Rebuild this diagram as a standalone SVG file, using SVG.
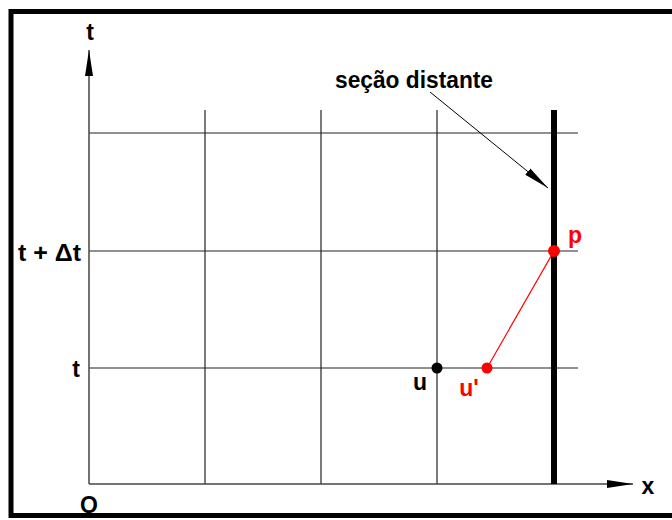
<svg xmlns="http://www.w3.org/2000/svg" width="672" height="520" viewBox="0 0 672 520">
<style>
.grid{stroke:#222;stroke-width:1.2;fill:none}
.axis{stroke:#444;stroke-width:1.5;fill:none}
.lbl{font-family:"Liberation Sans",Arial,sans-serif;font-weight:bold;font-size:23px;fill:#000}
.red{fill:#ff0000}
</style>
<defs>
<marker id="ah" viewBox="0 0 26 10" refX="26" refY="5" markerWidth="26" markerHeight="10" markerUnits="userSpaceOnUse" orient="auto">
<path d="M0,1 L26,5 L0,9 Z" fill="#000"/>
</marker>
</defs>
<rect x="0" y="0" width="672" height="520" fill="#fff"/>
<rect x="11" y="11.5" width="680" height="504" fill="none" stroke="#000" stroke-width="5"/>
<g id="grid">
<line class="grid" x1="89" y1="133" x2="578" y2="133"/>
<line class="grid" x1="89" y1="251" x2="578" y2="251"/>
<line class="grid" x1="89" y1="368" x2="578" y2="368"/>
<line class="grid" x1="205" y1="110" x2="205" y2="484"/>
<line class="grid" x1="321" y1="110" x2="321" y2="484"/>
<line class="grid" x1="437" y1="110" x2="437" y2="484"/>
</g>
<g id="connectors">
<line class="axis" x1="89" y1="484" x2="89" y2="50" marker-end="url(#ah)"/>
<line class="axis" x1="89" y1="484" x2="633" y2="484" marker-end="url(#ah)"/>
<line x1="430" y1="92" x2="548" y2="188" stroke="#000" stroke-width="1" marker-end="url(#ah)"/>
<line x1="487" y1="368" x2="554" y2="251" stroke="#ff0000" stroke-width="1.2"/>
</g>
<g id="section">
<line x1="554" y1="110" x2="554" y2="484" stroke="#000" stroke-width="6"/>
<text class="lbl" x="335" y="88" textLength="158" lengthAdjust="spacingAndGlyphs">seção distante</text>
</g>
<g id="axis-labels">
<text class="lbl" x="90" y="40" text-anchor="middle">t</text>
<text class="lbl" x="18" y="261" textLength="63" lengthAdjust="spacingAndGlyphs">t + Δt</text>
<text class="lbl" x="80" y="377" text-anchor="end">t</text>
<text class="lbl" x="89" y="513" text-anchor="middle">O</text>
<text class="lbl" x="648" y="494" text-anchor="middle">x</text>
</g>
<g id="node-u">
<circle cx="437" cy="368" r="5.5" fill="#000"/>
<text class="lbl" x="420" y="390" text-anchor="middle">u</text>
</g>
<g id="node-u-prime">
<circle cx="487" cy="368" r="5.5" class="red"/>
<text class="lbl red" x="469" y="396" text-anchor="middle">u'</text>
</g>
<g id="node-p">
<circle cx="554" cy="251" r="6" class="red"/>
<text class="lbl red" x="575" y="243" text-anchor="middle">p</text>
</g>
</svg>
